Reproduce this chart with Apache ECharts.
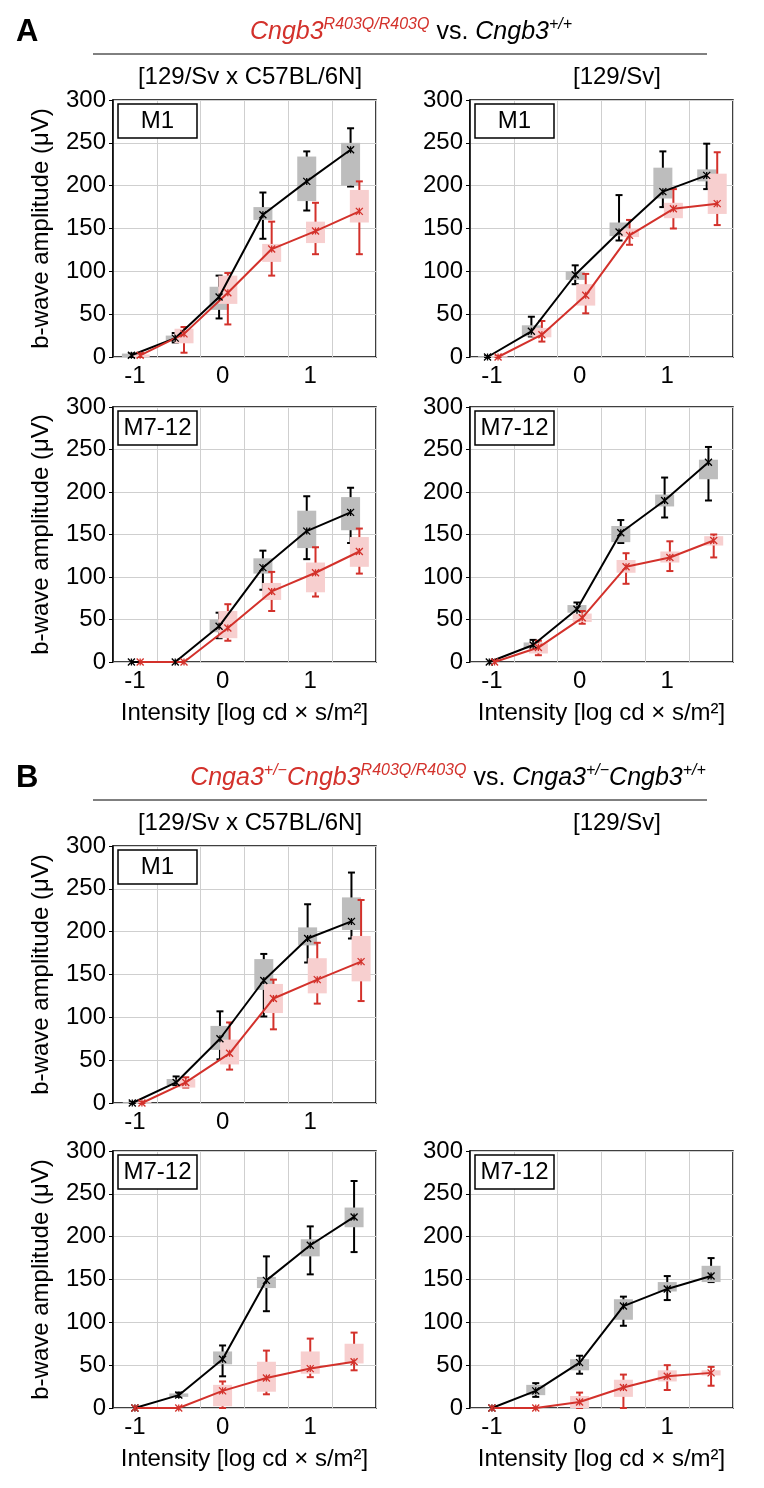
<!DOCTYPE html>
<html><head><meta charset="utf-8">
<script src="https://cdn.jsdelivr.net/npm/echarts@6/dist/echarts.min.js"></script>
<style>html,body{margin:0;padding:0;background:#fff}#c{width:764px;height:1488px}</style>
</head><body><div id="c"></div>
<script>
// Intensity steps (log cd x s/m^2)
const intensities = [-1, -0.5, 0, 0.5, 1, 1.5];
const xTickLabels = [-1, 0, 1];
const yTickStep = 50;
// each entry: [min, q1, median, q3, max] (µV)
const aTL_wt  = [[0,0,2,4,4],[17,19,22,25,28],[45,55,70,82,95],[138,160,166,175,192],[171,182,205,234,240],[199,200,242,250,267]];
const aTL_mut = [[0,0,2,3,4],[5,16,27,33,35],[38,62,75,95,98],[95,111,126,132,158],[120,133,147,158,180],[120,157,170,195,205]];
const aTR_wt  = [[0,0,0,1,1],[24,24,30,37,47],[85,90,96,100,107],[136,141,146,157,189],[175,185,193,221,240],[196,205,212,219,249]];
const aTR_mut = [[0,0,0,1,1],[18,23,26,34,42],[51,60,72,85,97],[131,140,142,150,160],[150,162,173,180,196],[154,167,179,214,239]];
const aBL_wt  = [[0,0,0,0,0],[0,0,0,0,0],[28,35,42,50,58],[85,104,111,122,131],[121,134,154,178,195],[140,155,176,194,205]];
const aBL_mut = [[0,0,0,0,0],[0,0,0,0,0],[25,28,40,60,68],[60,73,83,93,106],[77,82,105,117,135],[104,112,130,147,157]];
const aBR_wt  = [[0,0,0,0,0],[14,16,20,23,26],[55,58,62,67,70],[140,141,152,160,167],[170,183,190,197,217],[190,215,235,238,253]];
const aBR_mut = [[0,0,0,0,0],[8,10,17,22,25],[45,47,52,57,60],[92,105,112,120,128],[107,117,123,130,142],[123,137,143,148,150]];
const bTL_wt  = [[0,0,0,1,1],[21,21,24,28,31],[51,62,75,90,107],[101,132,143,168,174],[164,184,192,205,232],[192,202,212,240,269]];
const bTL_mut = [[0,0,0,1,1],[18,18,24,28,30],[39,45,58,74,94],[86,105,122,139,144],[116,128,144,169,187],[119,142,165,195,237]];
const bBL_wt  = [[0,0,0,0,0],[13,13,15,17,18],[37,51,57,66,73],[113,140,149,153,177],[156,177,190,197,212],[182,211,223,234,265]];
const bBL_mut = [[0,0,0,0,0],[0,0,0,0,0],[0,2,20,27,31],[16,19,35,54,67],[36,40,46,66,81],[44,52,54,75,88]];
const bBR_wt  = [[0,0,0,0,0],[13,15,20,27,29],[40,44,53,57,61],[96,103,119,127,130],[126,136,139,147,154],[147,147,154,166,175]];
const bBR_mut = [[0,0,0,0,0],[0,0,0,0,0],[0,0,7,14,18],[0,13,24,33,39],[21,31,37,44,50],[26,38,41,44,48]];

const FONT = 'Liberation Sans, Arial, Helvetica, sans-serif';
const FS = 24;
const W = 263;
const RED = '#d3312b';
const panels = [
  {left:113, top:100, height:257, wt:aTL_wt, mut:aTL_mut, tag:'M1',    shift:[-0.04,0.06], yName:true,  xName:false},
  {left:470, top:100, height:257, wt:aTR_wt, mut:aTR_mut, tag:'M1',    shift:[-0.05,0.07], yName:false, xName:false},
  {left:113, top:407, height:255, wt:aBL_wt, mut:aBL_mut, tag:'M7-12', shift:[-0.04,0.06], yName:true,  xName:true},
  {left:470, top:407, height:255, wt:aBR_wt, mut:aBR_mut, tag:'M7-12', shift:[-0.03,0.03], yName:false, xName:true},
  {left:113, top:846, height:257, wt:bTL_wt, mut:bTL_mut, tag:'M1',    shift:[-0.03,0.08], yName:true,  xName:false},
  {left:113, top:1151,height:257, wt:bBL_wt, mut:bBL_mut, tag:'M7-12', shift:[0,0],        yName:true,  xName:true},
  {left:470, top:1151,height:257, wt:bBR_wt, mut:bBR_mut, tag:'M7-12', shift:[0,0],        yName:false, xName:true}
];

const STAR = 'path://M0,0L10,10M10,0L0,10M5,0L5,10';
function boxRenderer(color, fill) {
  return function (params, api) {
    const x = api.value(0);
    const pMin = api.coord([x, api.value(1)]);
    const pQ1 = api.coord([x, api.value(2)]);
    const pQ3 = api.coord([x, api.value(4)]);
    const pMax = api.coord([x, api.value(5)]);
    const cx = pMin[0], bw = 19, cw = 7;
    const ch = [];
    if (pMin[1] - pMax[1] > 0.5) {
      const st = {stroke: color, lineWidth: 2};
      ch.push({type:'line', shape:{x1:cx, y1:pMin[1], x2:cx, y2:pMax[1]}, style:st});
      ch.push({type:'line', shape:{x1:cx-cw/2, y1:pMin[1], x2:cx+cw/2, y2:pMin[1]}, style:st});
      ch.push({type:'line', shape:{x1:cx-cw/2, y1:pMax[1], x2:cx+cw/2, y2:pMax[1]}, style:st});
    }
    if (pQ1[1] - pQ3[1] > 0.5) {
      ch.push({type:'rect', shape:{x:cx-bw/2, y:pQ3[1], width:bw, height:pQ1[1]-pQ3[1]}, style:{fill:fill}});
    }
    return {type:'group', children:ch};
  };
}

const grids = [], xAxes = [], yAxes = [], series = [], graphics = [];
panels.forEach((p, i) => {
  grids.push({left:p.left, top:p.top, width:W, height:p.height, show:true, borderColor:'#000', borderWidth:1.5, backgroundColor:'transparent'});
  xAxes.push({
    type:'value', gridIndex:i, min:-1.25, max:1.75, interval:0.5,
    axisLine:{show:false, onZero:false}, axisTick:{show:false},
    axisLabel:{customValues:xTickLabels, fontSize:FS, color:'#000', fontFamily:FONT, margin:7},
    splitLine:{show:true, lineStyle:{color:'#cfcfcf', width:1}},
    name: p.xName ? 'Intensity [log cd × s/m²]' : '', nameLocation:'middle', nameGap:39,
    nameTextStyle:{fontSize:FS, color:'#000', fontFamily:FONT}
  });
  yAxes.push({
    type:'value', gridIndex:i, min:0, max:300, interval:yTickStep,
    axisLine:{show:true, onZero:false, lineStyle:{color:'#000', width:1.5}},
    axisTick:{show:true, length:4, lineStyle:{color:'#000'}},
    axisLabel:{fontSize:FS, color:'#000', fontFamily:FONT, margin:7},
    splitLine:{show:true, lineStyle:{color:'#cfcfcf', width:1}},
    name: p.yName ? 'b-wave amplitude (μV)' : '', nameLocation:'middle', nameGap:60,
    nameTextStyle:{fontSize:FS, color:'#000', fontFamily:FONT}
  });
  const groups = [
    {d:p.wt,  color:'#000000', fill:'#bdbdbd', sh:p.shift[0]},
    {d:p.mut, color:RED, fill:'#f7cfcf', sh:p.shift[1]}
  ];
  groups.forEach(g => {
    series.push({
      type:'custom', xAxisIndex:i, yAxisIndex:i, z:2, animation:false, silent:true,
      renderItem: boxRenderer(g.color, g.fill),
      encode:{x:0, y:3},
      data: intensities.map((x, k) => [x + g.sh].concat(g.d[k]))
    });
  });
  groups.forEach(g => {
    series.push({
      type:'line', xAxisIndex:i, yAxisIndex:i, z:3, animation:false, silent:true,
      data: intensities.map((x, k) => [x + g.sh, g.d[k][2]]),
      lineStyle:{color:g.color, width:2},
      symbol:STAR, symbolSize:7,
      itemStyle:{color:g.color, borderColor:g.color, borderWidth:1.3}
    });
  });
  graphics.push({type:'rect', z:10, shape:{x:p.left+5, y:p.top+4, width:79, height:34}, style:{fill:'#fff', stroke:'#000', lineWidth:1.5}});
  graphics.push({type:'text', z:11, x:p.left+5+39.5, y:p.top+4+17, style:{text:p.tag, fontSize:24, fontFamily:FONT, fill:'#000', align:'center', verticalAlign:'middle'}});
});

const richT = {
  r:{fontSize:25, fontStyle:'italic', fill:RED, fontFamily:FONT, lineHeight:30, verticalAlign:'middle'},
  rs:{fontSize:16, fontStyle:'italic', fill:RED, fontFamily:FONT, lineHeight:18, verticalAlign:'top'},
  b:{fontSize:25, fill:'#000', fontFamily:FONT, lineHeight:30, verticalAlign:'middle'},
  bi:{fontSize:25, fontStyle:'italic', fill:'#000', fontFamily:FONT, lineHeight:30, verticalAlign:'middle'},
  bs:{fontSize:16, fontStyle:'italic', fill:'#000', fontFamily:FONT, lineHeight:18, verticalAlign:'top'}
};
function header(letter, titleText, titleX, top) {
  graphics.push({type:'text', x:16, y:top-68, style:{text:letter, fontSize:31, fontWeight:'bold', fontFamily:FONT, fill:'#000', verticalAlign:'middle'}});
  graphics.push({type:'text', x:titleX, y:top-68, style:{text:titleText, rich:richT, align:'center', verticalAlign:'middle'}});
  graphics.push({type:'line', shape:{x1:93, y1:top-46, x2:707, y2:top-46}, style:{stroke:'#000', lineWidth:1}});
  graphics.push({type:'text', x:250, y:top-23, style:{text:'[129/Sv x C57BL/6N]', fontSize:FS, fontFamily:FONT, fill:'#000', align:'center', verticalAlign:'middle'}});
  graphics.push({type:'text', x:617, y:top-23, style:{text:'[129/Sv]', fontSize:FS, fontFamily:FONT, fill:'#000', align:'center', verticalAlign:'middle'}});
}
header('A', '{r|Cngb3}{rs|R403Q/R403Q}{b| vs. }{bi|Cngb3}{bs|+/+}', 411, 100);
header('B', '{r|Cnga3}{rs|+/−}{r|Cngb3}{rs|R403Q/R403Q}{b| vs. }{bi|Cnga3}{bs|+/−}{bi|Cngb3}{bs|+/+}', 448, 846);

const chart = echarts.init(document.getElementById('c'), null, {renderer:'canvas'});
chart.setOption({
  animation:false,
  backgroundColor:'#fff',
  grid:grids, xAxis:xAxes, yAxis:yAxes, series:series, graphic:graphics
});
</script></body></html>
